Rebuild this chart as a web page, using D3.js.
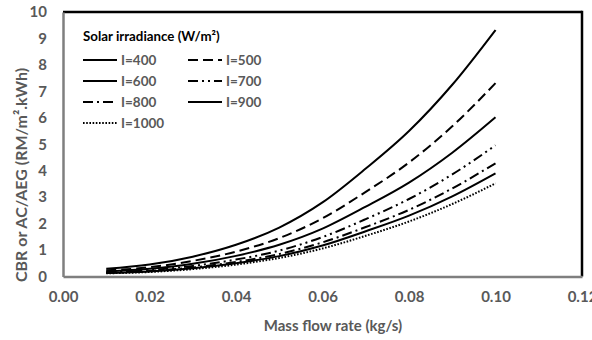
<!DOCTYPE html>
<html><head><meta charset="utf-8">
<script src="https://cdn.jsdelivr.net/npm/d3@7/dist/d3.min.js"></script>
<style>body{margin:0;background:#fff}svg{display:block}</style>
</head><body>
<svg id="c" width="592" height="340"></svg>
<script>
const massFlow = [0.01,0.02,0.03,0.04,0.05,0.06,0.07,0.08,0.09,0.10];
const irradiance = ["I=400","I=500","I=600","I=700","I=800","I=900","I=1000"];
const cbr400  = [0.29,0.45,0.75,1.20,1.85,2.80,4.08,5.50,7.25,9.32];
const cbr500  = [0.23,0.35,0.59,0.94,1.45,2.20,3.20,4.31,5.68,7.31];
const cbr600  = [0.19,0.29,0.48,0.78,1.20,1.81,2.64,3.55,4.68,6.02];
const cbr700  = [0.16,0.24,0.40,0.64,0.98,1.49,2.17,2.93,3.86,4.96];
const cbr800  = [0.14,0.21,0.34,0.55,0.85,1.29,1.87,2.52,3.33,4.28];
const cbr900  = [0.13,0.19,0.31,0.50,0.77,1.17,1.71,2.30,3.03,3.90];
const cbr1000 = [0.12,0.17,0.28,0.45,0.70,1.06,1.54,2.08,2.74,3.52];
const xTicks = [0,0.02,0.04,0.06,0.08,0.10,0.12];
const yTicks = [0,1,2,3,4,5,6,7,8,9,10];
const legendTitle = "Solar irradiance (W/m²)";
const xTitle = "Mass flow rate (kg/s)";
const yTitle = "CBR or AC/AEG (RM/m².kWh)";

const seriesValues = [cbr400,cbr500,cbr600,cbr700,cbr800,cbr900,cbr1000];
const dashes = [null,"10,5",null,"10,4,2,4,2,4","10,4,2,4",null,"1.6,1.6"];

const svg = d3.select("#c");
const font = "Lato, 'Open Sans', sans-serif";
const x = d3.scaleLinear().domain([0,0.12]).range([63,582]);
const y = d3.scaleLinear().domain([0,10]).range([276.5,12]);

// frame
svg.append("line").attr("x1",x(0)).attr("x2",x(0.12)).attr("y1",y(10)).attr("y2",y(10)).attr("stroke","#000").attr("stroke-width",2.5);
svg.append("line").attr("x1",x(0.12)).attr("x2",x(0.12)).attr("y1",y(10)-1.2).attr("y2",y(0)).attr("stroke","#000").attr("stroke-width",2.5);

// axes
const xAxis = d3.axisBottom(x).tickValues(xTicks).tickFormat(d3.format(".2f")).tickSize(0).tickPadding(15);
const gx = svg.append("g").attr("transform",`translate(0,${y(0)})`).call(xAxis);
const yAxis = d3.axisLeft(y).tickValues(yTicks).tickFormat(d3.format("d")).tickSize(0).tickPadding(16);
const gy = svg.append("g").attr("transform",`translate(${x(0)},0)`).call(yAxis);
[gx,gy].forEach(g=>{
  g.select(".domain").attr("stroke","#7f7f7f").attr("stroke-width",2.5);
  g.selectAll("text").attr("fill","#595959").style("font-family",font).style("font-weight","bold").style("font-size","15px");
});

// lines
const line = d3.line().x((d,i)=>x(massFlow[i])).y(d=>y(d)).curve(d3.curveMonotoneX);
seriesValues.forEach((vals,k)=>{
  svg.append("path").datum(vals).attr("d",line).attr("fill","none")
    .attr("stroke","#000").attr("stroke-width",2)
    .attr("stroke-dasharray",dashes[k]);
});

// legend
const lg = svg.append("g");
lg.append("text").attr("x",83).attr("y",41).text(legendTitle)
  .style("font-family",font).style("font-weight","bold").style("font-size","13.3px").attr("fill","#000");
irradiance.forEach((name,k)=>{
  const col = k%2, row = Math.floor(k/2);
  const lx = col? 188 : 83;
  const ly = 60 + row*21;
  lg.append("line").attr("x1",lx).attr("x2",lx+34).attr("y1",ly).attr("y2",ly)
    .attr("stroke","#000").attr("stroke-width",2).attr("stroke-dasharray",dashes[k]);
  lg.append("text").attr("x",lx+38).attr("y",ly+5).text(name)
    .style("font-family",font).style("font-weight","bold").style("font-size","13.5px").attr("fill","#595959");
});

// axis titles
svg.append("text").attr("x",333).attr("y",331).attr("text-anchor","middle").text(xTitle)
  .style("font-family",font).style("font-weight","bold").style("font-size","15px").attr("fill","#595959");
svg.append("text").attr("transform","translate(27,175) rotate(-90)").attr("text-anchor","middle").text(yTitle)
  .style("font-family",font).style("font-weight","bold").style("font-size","16px").attr("fill","#595959");
</script>
</body></html>
